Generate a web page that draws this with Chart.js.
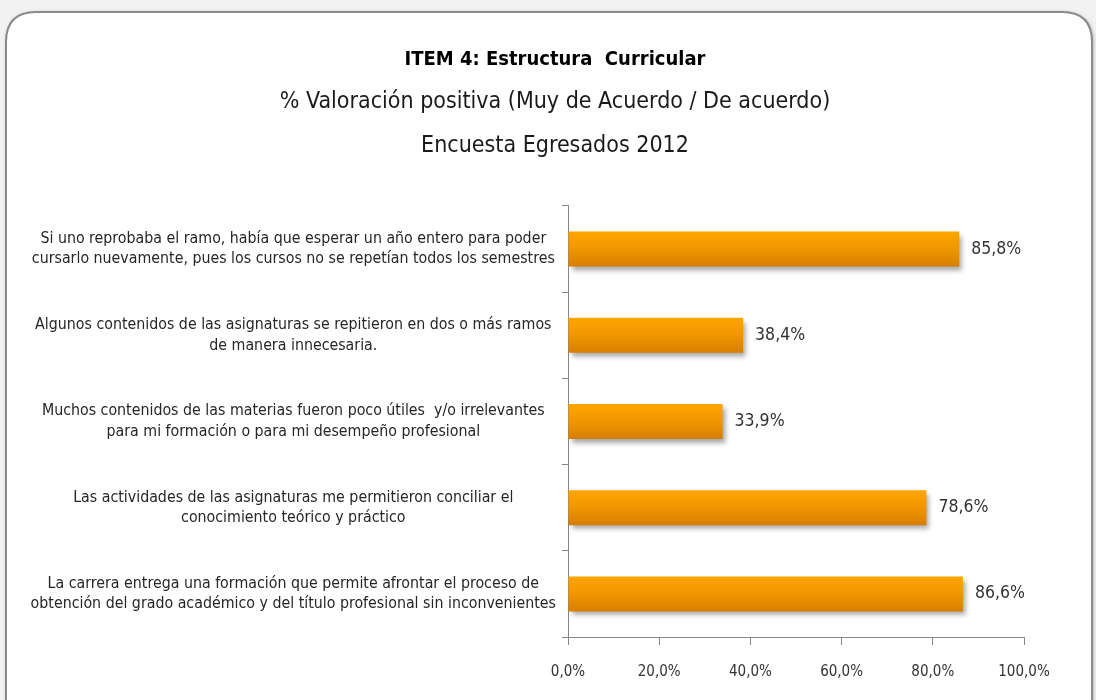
<!DOCTYPE html>
<html>
<head>
<meta charset="utf-8">
<script src="https://cdn.jsdelivr.net/npm/chart.js@4.4.1/dist/chart.umd.min.js"></script>
<style>
  html, body { margin: 0; padding: 0; background: #f2f2f2; }
  #wrap { width: 1096px; height: 700px; position: relative; }
  canvas { display: block; }
</style>
</head>
<body>
<div id="wrap"><canvas id="c" width="1096" height="700"></canvas></div>
<script>
const FONT = "'Liberation Sans Narrow', 'DejaVu Sans Condensed', 'Arial Narrow', sans-serif";

const titleText = "ITEM 4: Estructura  Curricular";
const subtitleLines = ["% Valoración positiva (Muy de Acuerdo / De acuerdo)", "Encuesta Egresados 2012"];

const categories = [
  ["Si uno reprobaba el ramo, había que esperar un año entero para poder", "cursarlo nuevamente, pues los cursos no se repetían todos los semestres"],
  ["Algunos contenidos de las asignaturas se repitieron en dos o más ramos", "de manera innecesaria."],
  ["Muchos contenidos de las materias fueron poco útiles  y/o irrelevantes", "para mi formación o para mi desempeño profesional"],
  ["Las actividades de las asignaturas me permitieron conciliar el", "conocimiento teórico y práctico"],
  ["La carrera entrega una formación que permite afrontar el proceso de", "obtención del grado académico y del título profesional sin inconvenientes"]
];
const values = [85.8, 38.4, 33.9, 78.6, 86.6];
const xTicks = [0, 20, 40, 60, 80, 100];

const fmt = v => v.toFixed(1).replace('.', ',') + '%';

const BAR_PCT = 0.406;
const PAD_LEFT = 14;
const AXIS_X = 568;
const RIGHT_SPACE = 72;

const cardPlugin = {
  id: 'card',
  beforeDraw(chart) {
    const ctx = chart.ctx;
    ctx.save();
    ctx.fillStyle = '#f2f2f2';
    ctx.fillRect(0, 0, chart.width, chart.height);
    const x = 6, y = 12, w = 1086, h = 720, r = 30;
    ctx.beginPath();
    ctx.moveTo(x + r, y);
    ctx.lineTo(x + w - r, y);
    ctx.quadraticCurveTo(x + w, y, x + w, y + r);
    ctx.lineTo(x + w, y + h - r);
    ctx.quadraticCurveTo(x + w, y + h, x + w - r, y + h);
    ctx.lineTo(x + r, y + h);
    ctx.quadraticCurveTo(x, y + h, x, y + h - r);
    ctx.lineTo(x, y + r);
    ctx.quadraticCurveTo(x, y, x + r, y);
    ctx.closePath();
    ctx.shadowColor = 'rgba(0,0,0,0.35)';
    ctx.shadowBlur = 4;
    ctx.shadowOffsetX = 1;
    ctx.shadowOffsetY = 1;
    ctx.fillStyle = '#ffffff';
    ctx.fill();
    ctx.shadowColor = 'transparent';
    ctx.lineWidth = 2;
    ctx.strokeStyle = '#8a8a8a';
    ctx.stroke();
    ctx.restore();
  }
};

const shadowPlugin = {
  id: 'barShadow',
  beforeDatasetsDraw(chart) {
    const ctx = chart.ctx;
    ctx.save();
    ctx.shadowColor = 'rgba(0,0,0,0.35)';
    ctx.shadowBlur = 5;
    ctx.shadowOffsetX = 3;
    ctx.shadowOffsetY = 4;
  },
  afterDatasetsDraw(chart) {
    chart.ctx.restore();
  }
};

const valueLabels = {
  id: 'valueLabels',
  afterDraw(chart) {
    const ctx = chart.ctx;
    const meta = chart.getDatasetMeta(0);
    ctx.save();
    ctx.font = "17.5px " + FONT;
    ctx.fillStyle = '#333333';
    ctx.textAlign = 'left';
    ctx.textBaseline = 'middle';
    meta.data.forEach((bar, i) => {
      ctx.fillText(fmt(values[i]), bar.x + 12, bar.y);
    });
    ctx.restore();
  }
};

function barFill(context) {
  const chart = context.chart;
  const yScale = chart.scales.y;
  if (!chart.chartArea || !yScale) return '#F39200';
  const catH = (yScale.bottom - yScale.top) / categories.length;
  const cy = yScale.getPixelForValue(context.dataIndex);
  const half = catH * BAR_PCT / 2;
  const g = chart.ctx.createLinearGradient(0, cy - half, 0, cy + half);
  g.addColorStop(0, '#FFA500');
  g.addColorStop(0.5, '#F09600');
  g.addColorStop(1, '#D67E00');
  return g;
}

new Chart(document.getElementById('c'), {
  type: 'bar',
  data: {
    labels: categories,
    datasets: [{
      data: values,
      backgroundColor: barFill,
      borderWidth: 0,
      barPercentage: BAR_PCT,
      categoryPercentage: 1
    }]
  },
  options: {
    indexAxis: 'y',
    responsive: false,
    animation: false,
    devicePixelRatio: 1,
    layout: { padding: { left: PAD_LEFT, right: 0, top: 0, bottom: 0 } },
    plugins: {
      legend: { display: false },
      tooltip: { enabled: false },
      title: {
        display: true,
        text: titleText,
        color: '#000000',
        font: { family: FONT, size: 20, weight: 'bold', lineHeight: 1.25 },
        padding: { top: 47.5, bottom: 4 }
      },
      subtitle: {
        display: true,
        text: subtitleLines,
        color: '#1a1a1a',
        font: { family: FONT, size: 23, weight: 'normal', lineHeight: 1.913 },
        padding: { top: 3.5, bottom: 38 }
      }
    },
    scales: {
      x: {
        min: 0,
        max: 100,
        afterBuildTicks(scale) { scale.ticks = xTicks.map(v => ({ value: v })); },
        afterFit(scale) { scale.height = 63; },
        ticks: {
          callback: v => fmt(v),
          color: '#333333',
          font: { family: FONT, size: 15 },
          padding: 18,
          maxRotation: 0
        },
        grid: { drawOnChartArea: false, drawTicks: true, tickLength: 8, color: '#868686' },
        border: { display: true, color: '#868686', width: 1 }
      },
      y: {
        position: 'left',
        afterFit(scale) { scale.width = AXIS_X - PAD_LEFT; },
        ticks: {
          color: '#262626',
          font: { family: FONT, size: 15.8, lineHeight: 1.3 },
          crossAlign: 'center',
          padding: 6,
          autoSkip: false
        },
        grid: { drawOnChartArea: false, drawTicks: true, tickLength: 6, color: '#868686', offset: true },
        border: { display: true, color: '#868686', width: 1 }
      },
      ySpace: {
        type: 'category',
        position: 'right',
        display: true,
        afterFit(scale) { scale.width = RIGHT_SPACE; },
        ticks: { display: false },
        grid: { display: false, drawTicks: false },
        border: { display: false }
      }
    }
  },
  plugins: [cardPlugin, shadowPlugin, valueLabels]
});
</script>
</body>
</html>
